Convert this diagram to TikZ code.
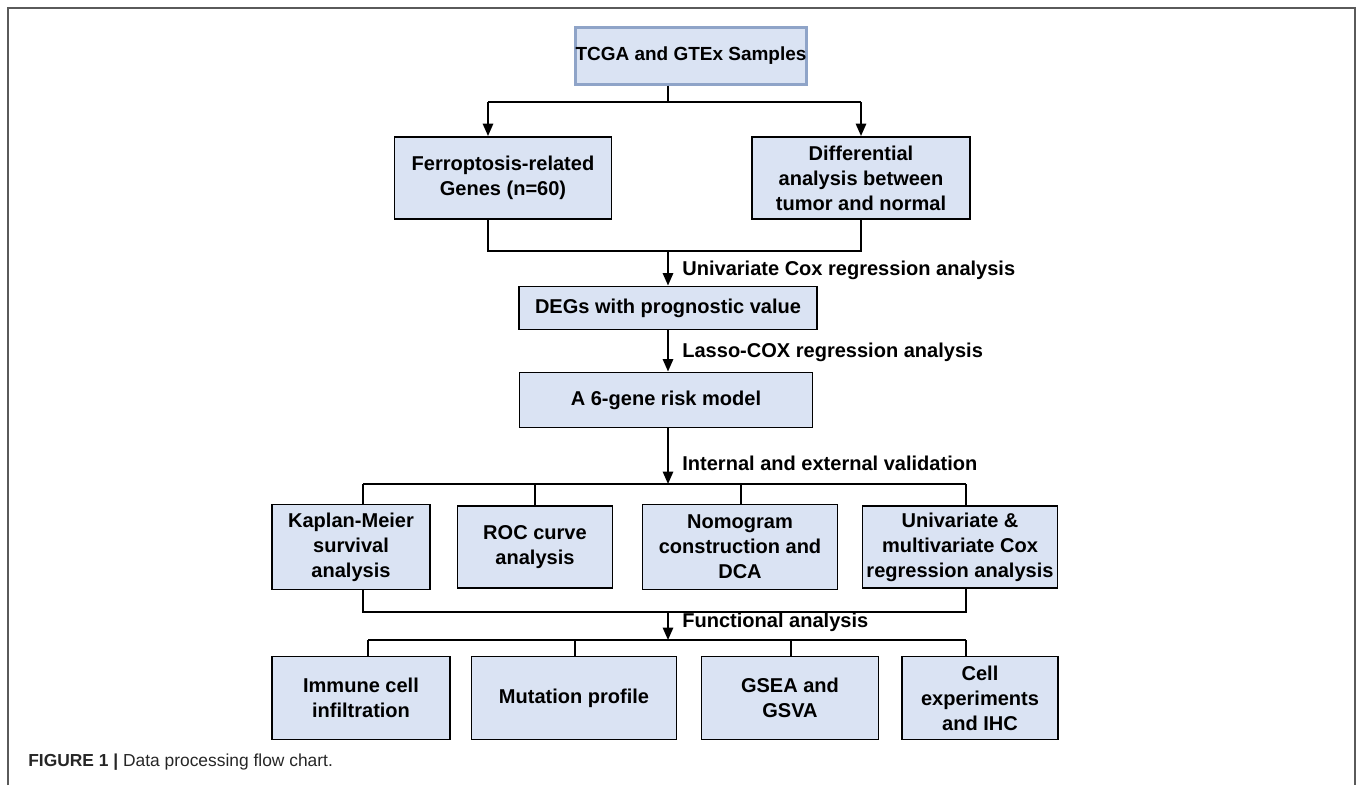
\documentclass[tikz,border=0pt]{standalone}
\usepackage{fontspec}
\setmainfont{Liberation Sans}
\usetikzlibrary{arrows.meta}
\definecolor{boxfill}{RGB}{218,227,243}
\definecolor{topline}{RGB}{143,164,200}
\definecolor{framegray}{RGB}{90,90,90}
\begin{document}
\begin{tikzpicture}[x=0.02cm,y=-0.02cm,
  box/.style={draw,fill=boxfill,line width=1.1pt,align=center,inner sep=0pt,
    font=\fontsize{11.4}{14.2}\selectfont\bfseries},
  lab/.style={anchor=west,inner sep=0pt,font=\fontsize{11.4}{14.2}\selectfont\bfseries},
  link/.style={line width=1.1pt},
  arr/.style={line width=1.1pt,-{Triangle[width=5.8pt,length=7pt]}}]
\useasboundingbox (0,0) rectangle (1358,785);
\draw[framegray,line width=0.9pt] (8,785) -- (8,8) -- (1355,8) -- (1355,785);
% boxes
\node(tcga) at (691,56)[box,draw=topline,line width=1.3pt,minimum width=230*0.02cm,minimum height=57*0.02cm,
  font=\fontsize{10.8}{13}\selectfont\bfseries] {TCGA and GTEx Samples};
\node(ferro) at (503,178)[box,minimum width=217*0.02cm,minimum height=82*0.02cm] {Ferroptosis-related\\Genes (n=60)};
\node(diff) at (861,178)[box,minimum width=218*0.02cm,minimum height=82*0.02cm] {Differential\\analysis between\\tumor and normal};
\node(degs) at (668,308)[box,minimum width=298*0.02cm,minimum height=43*0.02cm] {DEGs with prognostic value};
\node(model) at (666,400)[box,minimum width=293*0.02cm,minimum height=55*0.02cm] {A 6-gene risk model};
\node(km) at (351,547)[box,minimum width=158*0.02cm,minimum height=85*0.02cm] {Kaplan-Meier\\survival\\analysis};
\node(roc) at (535,547)[box,minimum width=155*0.02cm,minimum height=82*0.02cm] {ROC curve\\analysis};
\node(nomo) at (740,547)[box,minimum width=195*0.02cm,minimum height=85*0.02cm] {Nomogram\\construction and\\DCA};
\node(cox) at (960,547)[box,minimum width=195*0.02cm,minimum height=82*0.02cm] {Univariate \&\\multivariate Cox\\regression analysis};
\node(immune) at (361,698)[box,minimum width=178*0.02cm,minimum height=83*0.02cm] {Immune cell\\infiltration};
\node(mut) at (574,698)[box,minimum width=205*0.02cm,minimum height=83*0.02cm] {Mutation profile};
\node(gsea) at (790,698)[box,minimum width=177*0.02cm,minimum height=83*0.02cm] {GSEA and\\GSVA};
\node(cell) at (980,698)[box,minimum width=156*0.02cm,minimum height=83*0.02cm] {Cell\\experiments\\and IHC};
% step labels
\node(l1) at (682,270)[lab] {Univariate Cox regression analysis};
\node(l2) at (682,352)[lab] {Lasso-COX regression analysis};
\node(l3) at (682,463)[lab] {Internal and external validation};
\node(l4) at (682,622)[lab] {Functional analysis};
% caption
\node(cap) at (28,762)[anchor=west,inner sep=0pt,text=black!85,font=\fontsize{9.9}{12}\selectfont] {\textbf{FIGURE 1 |} Data processing flow chart.};
% joints
\coordinate(s1) at (668,102);
\coordinate(s1l) at (488,102);
\coordinate(s1r) at (861,102);
\coordinate(m1) at (668,251);
\coordinate(m1l) at (488,251);
\coordinate(m1r) at (861,251);
\coordinate(s2) at (668,484);
\coordinate(s2a) at (363,484);
\coordinate(s2b) at (535,484);
\coordinate(s2c) at (741,484);
\coordinate(s2d) at (966,484);
\coordinate(m2) at (668,612);
\coordinate(m2l) at (363,612);
\coordinate(m2r) at (966,612);
\coordinate(s3) at (668,640);
\coordinate(s3a) at (368,640);
\coordinate(s3b) at (575,640);
\coordinate(s3c) at (791,640);
\coordinate(s3d) at (966,640);
% connectors
\draw[link] (tcga.south -| s1) -- (s1);
\draw[link] (s1l) -- (s1r);
\draw[arr] (s1l) -- (s1l |- ferro.north);
\draw[arr] (s1r) -- (s1r |- diff.north);
\draw[link] (m1l |- ferro.south) -- (m1l) -- (m1r) -- (m1r |- diff.south);
\draw[arr] (m1) -- (m1 |- degs.north);
\draw[arr] (degs.south -| m1) -- (m1 |- model.north);
\draw[arr] (model.south -| s2) -- (s2);
\draw[link] (s2a) -- (s2d);
\draw[link] (s2a) -- (s2a |- km.north);
\draw[link] (s2b) -- (s2b |- roc.north);
\draw[link] (s2c) -- (s2c |- nomo.north);
\draw[link] (s2d) -- (s2d |- cox.north);
\draw[link] (m2l |- km.south) -- (m2l) -- (m2r) -- (m2r |- cox.south);
\draw[arr] (m2) -- (s3);
\draw[link] (s3a) -- (s3d);
\draw[link] (s3a) -- (s3a |- immune.north);
\draw[link] (s3b) -- (s3b |- mut.north);
\draw[link] (s3c) -- (s3c |- gsea.north);
\draw[link] (s3d) -- (s3d |- cell.north);
\end{tikzpicture}
\end{document}
